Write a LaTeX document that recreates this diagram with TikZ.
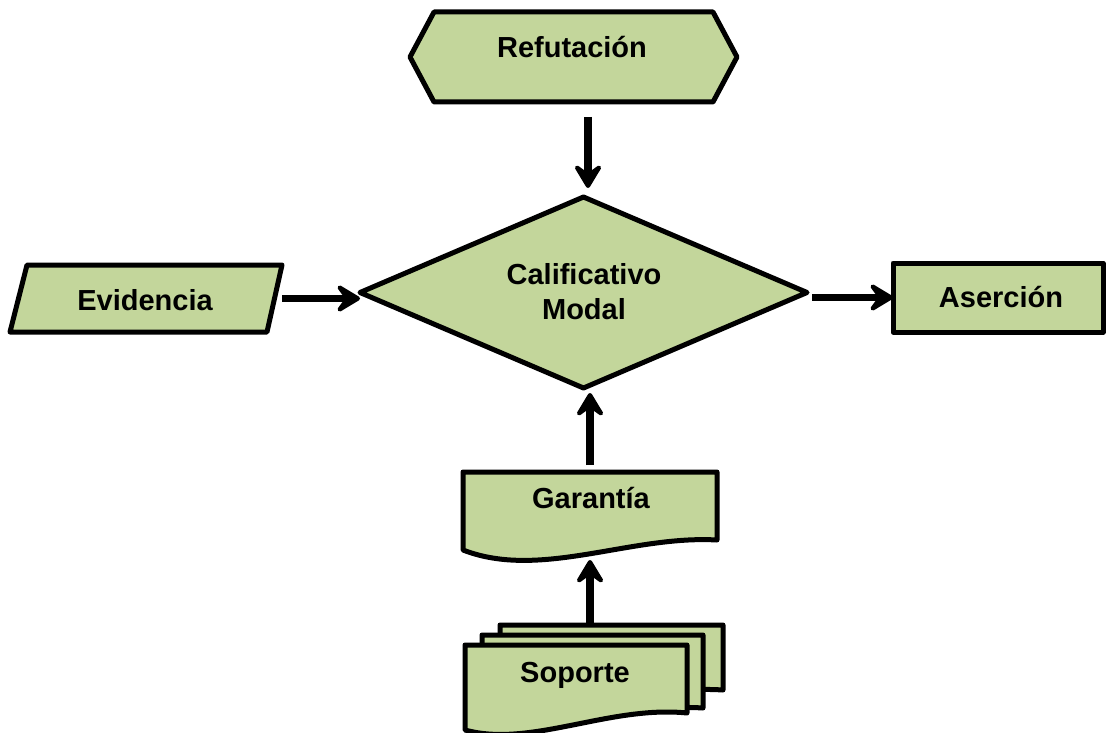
\documentclass[tikz,border=0pt]{standalone}
\usepackage{fontspec}
\setmainfont{Liberation Sans}
\usetikzlibrary{arrows.meta}
\definecolor{boxgreen}{HTML}{C3D69B}
\begin{document}
\begin{tikzpicture}[x=1pt,y=-1pt,
  shp/.style={draw=black,fill=boxgreen,line width=5pt,line join=round},
  anchorbox/.style={draw=none,rectangle,inner sep=0pt,outer sep=0pt},
  lbl/.style={font=\fontsize{29}{35}\selectfont\bfseries,align=center,inner sep=0pt},
  conn/.style={line width=7.5pt,-{Stealth[length=30pt,width=36pt,inset=13pt,round]}}]
\useasboundingbox (0,0) rectangle (1106,733);

% Refutacion (hexagon)
\draw[shp] (410,57) -- (434,12) -- (713,12) -- (737,57) -- (713,102) -- (434,102) -- cycle;
\node[anchorbox,minimum width=327pt,minimum height=90pt] (refut) at (573.5,57) {};
\node[lbl] (refutT) at (572,47) {Refutación};

% Calificativo Modal (diamond)
\draw[shp] (360,292.5) -- (583.5,197) -- (807,292.5) -- (583.5,388) -- cycle;
\node[anchorbox,minimum width=447pt,minimum height=191pt] (diam) at (583.5,292.5) {};
\node[lbl] (diamT) at (584,292) {Calificativo\\Modal};

% Evidencia (parallelogram)
\draw[shp] (27,265) -- (282,265) -- (267,332) -- (10,332) -- cycle;
\node[anchorbox,minimum width=272pt,minimum height=67pt] (evid) at (146,298.5) {};
\node[lbl] (evidT) at (145,300) {Evidencia};

% Asercion (rectangle)
\draw[shp] (893,263) rectangle (1103,332);
\node[anchorbox,minimum width=210pt,minimum height=69pt] (aser) at (998,297.5) {};
\node[lbl] (aserT) at (1001,297) {Aserción};

% Garantia (document)
\draw[shp] (463,472) -- (717,472) -- (717,540) .. controls (630,535) and (540,580) .. (463,550) -- cycle;
\node[anchorbox,minimum width=254pt,minimum height=76pt] (gar) at (590,510) {};
\node[lbl] (garT) at (591,498) {Garantía};

% Soporte (multi-document)
\draw[shp] (500,625) -- (723,625) -- (723,690) .. controls (660,686) and (580,705) .. (500,700) -- cycle;
\draw[shp] (482,635) -- (703,635) -- (703,708) .. controls (640,704) and (560,723) .. (482,718) -- cycle;
\draw[shp] (465,645) -- (687,645) -- (687,713) .. controls (610,705) and (530,748) .. (465,730) -- cycle;
\node[anchorbox,minimum width=258pt,minimum height=108pt] (sop) at (594,679) {};
\node[lbl] (sopT) at (575,675) {Soporte};

% Connectors
\draw[conn] ([xshift=14.5pt,yshift=-15pt]refut.south) -- ([xshift=4.5pt,yshift=9pt]diam.north);
\draw[conn] (evid.east) -- (evid.east -| diam.west);
\draw[conn] ([xshift=5pt]diam.east |- aser.west) -- (aser.west);
\draw[conn] ([yshift=7pt]gar.north) -- ([yshift=-5pt]gar.north |- diam.south);
\draw[conn] (gar.south |- sop.north) -- ([yshift=-12pt]gar.south);
\end{tikzpicture}
\end{document}
